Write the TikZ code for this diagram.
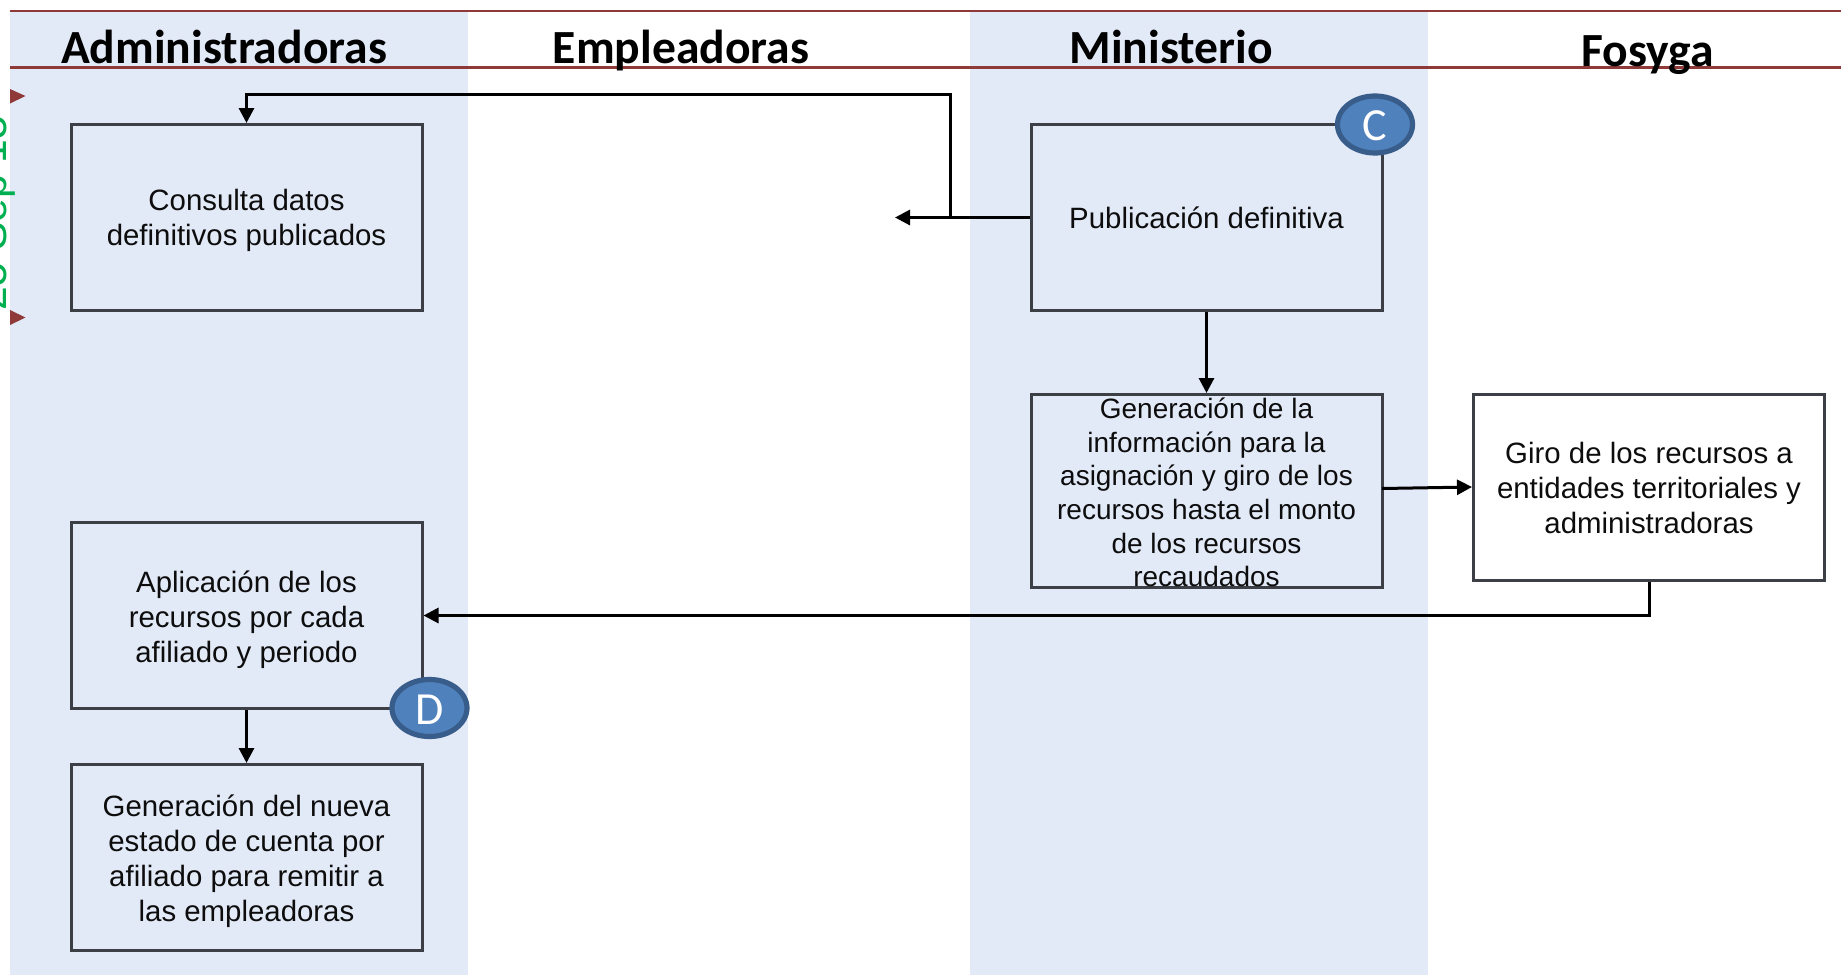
\documentclass[tikz,border=0pt]{standalone}
\usepackage{fontspec}
\usetikzlibrary{arrows.meta,shapes.geometric}
\setmainfont{Liberation Sans}
\newfontfamily\headfont{Carlito}
\definecolor{bandblue}{HTML}{E2E9F7}
\definecolor{rulered}{HTML}{8F3A38}
\definecolor{boxline}{HTML}{3C4046}
\definecolor{badgefill}{HTML}{4F81BD}
\definecolor{badgeline}{HTML}{385D8A}
\definecolor{stampgreen}{HTML}{00B050}
\newcommand{\badgeletter}[1]{\raisebox{-8pt}[0pt][0pt]{#1}}
\tikzset{
  x=0.5pt,y=-0.5pt,
  band/.style={fill=bandblue,draw=none},
  rulerline/.style={draw=rulered,line width=1.2pt},
  head/.style={font=\headfont\bfseries\fontsize{23.8}{26}\selectfont,anchor=base,inner sep=0pt,text=black},
  stepbox/.style={draw=boxline,line width=1.5pt,minimum width=175.5pt,minimum height=93pt,inner sep=0pt},
  boxtext/.style={align=center,inner sep=0pt,font=\fontsize{14.7}{17.6}\selectfont,text=black!95},
  gentext/.style={align=center,inner sep=0pt,font=\fontsize{14}{16.8}\selectfont,text=black!95},
  badge/.style={ellipse,draw=badgeline,line width=2.6pt,fill=badgefill,minimum width=37.5pt,minimum height=28.5pt,inner sep=0pt,
    font=\headfont\fontsize{23}{26}\selectfont,text=white},
  flow/.style={draw=black,line width=1.5pt,-{Triangle[length=7.5pt,width=7.5pt]}},
  marker/.style={fill=rulered,draw=none},
}
\begin{document}
\begin{tikzpicture}
\useasboundingbox (0,0) rectangle (1841,975);
\clip (0,0) rectangle (1841,975);
\fill[band] (10,11) rectangle (468,975);
\fill[band] (970,11) rectangle (1428,975);
\draw[rulerline] (10,11) -- (1841,11);
\draw[rulerline] (10,67.5) -- (1841,67.5);
\node[head] (hA) at (224,63) {Administradoras};
\node[head] (hE) at (681,63) {Empleadoras};
\node[head] (hM) at (1171,63) {Ministerio};
\node[head] (hF) at (1647.5,66) {Fosyga};
\node[rotate=90,anchor=base,text=stampgreen,font=\fontsize{21.3}{24}\selectfont,inner sep=0pt] (stamp) at (6,213) {25 Sep 15};
\fill[marker] (10,89) -- (25.5,96) -- (10,103.5) -- cycle;
\fill[marker] (10,310) -- (25.5,317.5) -- (10,325) -- cycle;
\node[stepbox,label={[boxtext,yshift=-1.5pt]center:{Consulta datos\\definitivos publicados}}] (consulta) at (246.5,217.5) {};
\node[stepbox,label={[boxtext,yshift=-0.2pt]center:{Publicación definitiva}}] (pub) at (1206.5,217.5) {};
\node[stepbox,minimum height=96.5pt,label={[gentext,yshift=-0.8pt]center:{Generación de la\\información para la\\asignación y giro de los\\recursos hasta el monto\\de los recursos\\recaudados}}] (gen) at (1206.5,491) {};
\node[stepbox,label={[boxtext,yshift=-0.6pt]center:{Giro de los recursos a\\entidades territoriales y\\administradoras}}] (giro) at (1649,487) {};
\node[stepbox,label={[boxtext,yshift=-2pt]center:{Aplicación de los\\recursos por cada\\afiliado y periodo}}] (apl) at (246.5,615.5) {};
\node[stepbox,label={[boxtext,yshift=-1.8pt]center:{Generación del nueva\\estado de cuenta por\\afiliado para remitir a\\las empleadoras}}] (est) at (246.5,857.5) {};
\node[badge] (C) at (1375,124.5) {\badgeletter{C}};
\node[badge] (D) at (429.5,708) {\badgeletter{D}};
\coordinate (junction) at (950.5,217.5);
\coordinate (leftend) at (895,217.5);
\coordinate (corner) at (950.5,94.5);
\coordinate (genout) at (1382,488.5);
\draw[flow] (pub.west) -- (leftend);
\draw[flow] (junction) -- (corner) -| (consulta.north);
\draw[flow] (pub.south) -- (gen.north);
\draw[flow] (genout) -- (giro.west);
\draw[flow] (giro.south) |- (apl.east);
\draw[flow] (apl.south) -- (est.north);
\end{tikzpicture}
\end{document}
